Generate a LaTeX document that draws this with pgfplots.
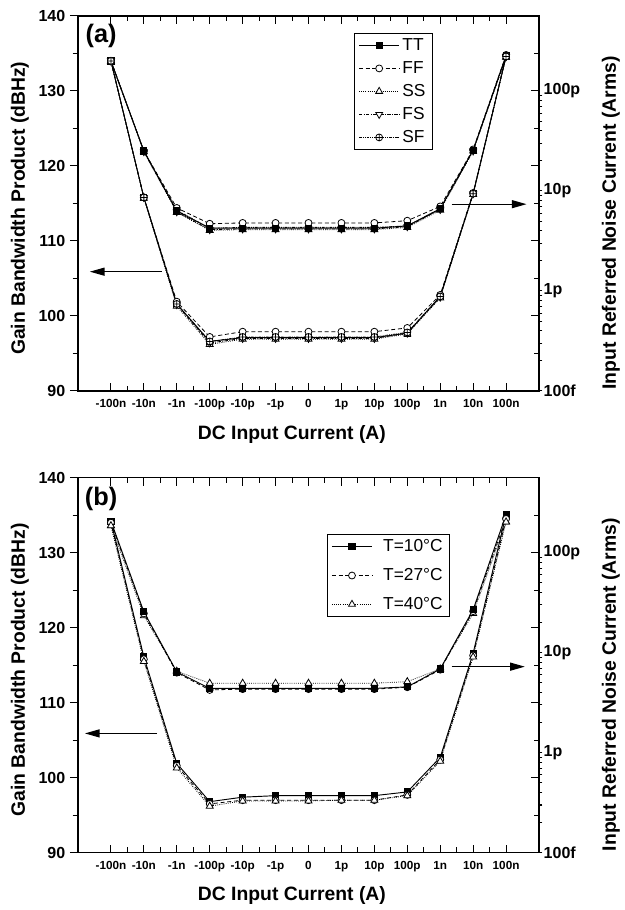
\documentclass[border=0pt]{standalone}
\usepackage{fontspec}
\setmainfont{Liberation Sans}
\usepackage{pgfplots}
\usepackage{pgfplotstable}
\pgfplotsset{compat=1.18}
\usetikzlibrary{arrows.meta}

% GBW (dBHz), panel (a): process corners
\pgfplotstableread{
x   TT    FF    SS    FS    SF
0   134.0 134.0 133.9 134.0 134.0
1   115.8 115.8 115.7 115.8 115.8
2   101.6 101.9 101.3 101.5 101.6
3   96.6  97.2  96.2  96.4  96.6
4   97.1  97.9  96.9  97.0  97.2
5   97.1  97.9  96.9  97.0  97.2
6   97.1  97.9  96.9  97.0  97.2
7   97.1  97.9  96.9  97.0  97.2
8   97.1  97.9  96.9  97.0  97.2
9   97.7  98.4  97.6  97.7  97.8
10  102.6 102.8 102.4 102.5 102.6
11  116.3 116.4 116.2 116.3 116.3
12  134.6 134.7 134.5 134.6 134.6
}\gbwa
% noise (Arms), panel (a)
\pgfplotstableread{
x   TT       FF       SS       FS       SF
0   2.00e-10 2.00e-10 1.96e-10 2.00e-10 2.00e-10
1   2.51e-11 2.51e-11 2.47e-11 2.47e-11 2.51e-11
2   6.31e-12 6.76e-12 6.10e-12 6.20e-12 6.42e-12
3   4.24e-12 4.70e-12 4.03e-12 4.10e-12 4.24e-12
4   4.24e-12 4.79e-12 4.10e-12 4.17e-12 4.32e-12
5   4.24e-12 4.79e-12 4.10e-12 4.17e-12 4.32e-12
6   4.24e-12 4.79e-12 4.10e-12 4.17e-12 4.32e-12
7   4.24e-12 4.79e-12 4.10e-12 4.17e-12 4.32e-12
8   4.24e-12 4.79e-12 4.10e-12 4.17e-12 4.32e-12
9   4.47e-12 5.04e-12 4.32e-12 4.39e-12 4.47e-12
10  6.64e-12 7.00e-12 6.42e-12 6.53e-12 6.64e-12
11  2.56e-11 2.60e-11 2.51e-11 2.51e-11 2.56e-11
12  2.25e-10 2.29e-10 2.18e-10 2.21e-10 2.25e-10
}\noisea
% GBW (dBHz), panel (b): temperature
\pgfplotstableread{
x   T10   T27   T40
0   134.2 134.0 133.6
1   116.1 115.8 115.5
2   101.9 101.6 101.3
3   96.8  96.5  96.2
4   97.4  97.0  96.9
5   97.6  97.0  96.9
6   97.6  97.0  96.9
7   97.6  97.0  97.0
8   97.6  97.0  97.0
9   98.1  97.7  97.6
10  102.7 102.4 102.2
11  116.6 116.3 116.1
12  135.1 134.5 134.1
}\gbwb
% noise (Arms), panel (b)
\pgfplotstableread{
x   T10      T27      T40
0   2.07e-10 2.00e-10 1.86e-10
1   2.56e-11 2.47e-11 2.34e-11
2   6.42e-12 6.31e-12 6.53e-12
3   4.39e-12 4.24e-12 4.95e-12
4   4.39e-12 4.32e-12 4.95e-12
5   4.39e-12 4.32e-12 4.95e-12
6   4.39e-12 4.32e-12 4.95e-12
7   4.39e-12 4.32e-12 4.95e-12
8   4.39e-12 4.32e-12 4.95e-12
9   4.55e-12 4.51e-12 5.13e-12
10  6.88e-12 6.76e-12 6.88e-12
11  2.69e-11 2.60e-11 2.47e-11
12  2.41e-10 2.21e-10 2.03e-10
}\noiseb

\tikzset{arr/.style={-{Triangle[length=11pt,width=6pt]}, line width=0.9pt}}

\pgfplotsset{
  panel/.style={
    scale only axis, width=345.75pt, height=281.25pt,
    xmin=-1, xmax=13,
    every tick/.style={black, line width=0.8pt},
    major tick length=6pt, minor tick length=4pt,
    axis line style={-, line width=1pt},
    yticklabel style={font=\bfseries\fontsize{12}{14}\selectfont},
    label style={font=\bfseries\fontsize{14.5}{17}\selectfont},
  },
  gbw/.style={panel,
    ymin=90, ymax=140, ytick={90,100,...,140}, minor y tick num=1,
    yticklabels={90,100,110,120,130,140},
    xtick={0,...,12},
    xticklabels={-100n,-10n,-1n,-100p,-10p,-1p,0,1p,10p,100p,1n,10n,100n},
    minor x tick num=1,
    xtick align=inside, ytick align=outside, ytick pos=left, xtick pos=both,
    xticklabel pos=lower,
    xticklabel style={font=\bfseries\fontsize{8.8}{10}\selectfont, yshift=-3pt},
    xlabel={DC Input Current (A)}, ylabel={Gain Bandwidth Product (dBHz)},
    ylabel style={at={(axis description cs:-0.126,0.487)}, anchor=center},
    xlabel style={at={(axis description cs:0.464,-0.115)}, anchor=center},
    legend cell align=left,
    legend image code/.code={\draw[mark repeat=2,mark phase=2,##1]
      plot coordinates {(0cm,0cm) (0.53cm,0cm) (1.06cm,0cm)};},
  },
  noise/.style={panel,
    hide x axis, axis y line*=right,
    ymin=1e-13, ymax=5.623e-10,
    ytick={1e-13,1e-12,1e-11,1e-10}, yticklabels={100f,1p,10p,100p},
    tick align=outside, major tick length=0pt, minor tick length=2.5pt,
    ylabel={Input Referred Noise Current (Arms)},
    ylabel style={at={(axis description cs:1.156,0.448)}, anchor=center},
  },
  mirror/.style={panel,
    hide x axis, axis y line*=right,
    ymin=90, ymax=140, ytick={90,100,...,140}, minor y tick num=1,
    yticklabels={}, tick align=inside,
  },
  sTT/.style={black, line width=0.7pt, mark=square*, mark size=2.3pt, mark options={solid, fill=black}},
  sFF/.style={black, line width=0.6pt, densely dashed, mark=*, mark size=2.6pt, mark options={solid, fill=white}},
  sSS/.style={black, line width=0.6pt, densely dotted, mark=triangle*, mark size=3pt, mark options={solid, fill=white}},
  sFS/.style={black, line width=0.6pt, dash pattern=on 2.5pt off 1pt on 0.8pt off 1pt, mark=triangle*, mark size=3pt, mark options={solid, fill=white, rotate=180}},
  sSF/.style={black, line width=0.6pt, dash pattern=on 2pt off 0.8pt on 0.6pt off 0.8pt on 0.6pt off 0.8pt, mark=oplus*, mark size=2.6pt, mark options={solid, fill=white}},
}

\begin{document}
\begin{tikzpicture}
\path (-58.5pt,-43pt) rectangle (406.5pt,639.5pt);

% ---------------- panel (a) ----------------
\begin{axis}[mirror, at={(0pt,346.3pt)}]
\end{axis}
\begin{semilogyaxis}[noise, at={(0pt,346.3pt)}]
  \addplot[sFS] table[x=x,y=FS] {\noisea};
  \addplot[sSS] table[x=x,y=SS] {\noisea};
  \addplot[sSF] table[x=x,y=SF] {\noisea};
  \addplot[sFF] table[x=x,y=FF] {\noisea};
  \addplot[sTT] table[x=x,y=TT] {\noisea};
\end{semilogyaxis}
\begin{axis}[gbw, at={(0pt,346.3pt)},
    legend style={at={(axis description cs:0.599,0.955)}, anchor=north west,
      font=\fontsize{13}{15}\selectfont, draw=black, line width=0.7pt, row sep=2.7pt}]
  \addplot[sTT] table[x=x,y=TT] {\gbwa};
  \addplot[sFF] table[x=x,y=FF] {\gbwa};
  \addplot[sSS] table[x=x,y=SS] {\gbwa};
  \addplot[sFS] table[x=x,y=FS] {\gbwa};
  \addplot[sSF] table[x=x,y=SF] {\gbwa};
  \legend{TT,FF,SS,FS,SF}
  \node[font=\bfseries\fontsize{19}{21}\selectfont] at (axis description cs:0.05,0.947) {(a)};
  \draw[arr] (axis cs:1.55,105.9) -- (axis cs:-0.64,105.9);
  \draw[arr] (axis cs:10.35,114.9) -- (axis cs:12.62,114.9);
\end{axis}

% ---------------- panel (b) ----------------
\begin{axis}[mirror, at={(0pt,0pt)}]
\end{axis}
\begin{semilogyaxis}[noise, at={(0pt,0pt)}]
  \addplot[sSS] table[x=x,y=T40] {\noiseb};
  \addplot[sFF] table[x=x,y=T27] {\noiseb};
  \addplot[sTT] table[x=x,y=T10] {\noiseb};
\end{semilogyaxis}
\begin{axis}[gbw, at={(0pt,0pt)},
    legend style={at={(axis description cs:0.540,0.850)}, anchor=north west,
      font=\fontsize{13}{15}\selectfont, draw=black, line width=0.7pt, row sep=7pt}]
  \addplot[sTT] table[x=x,y=T10] {\gbwb};
  \addplot[sFF] table[x=x,y=T27] {\gbwb};
  \addplot[sSS] table[x=x,y=T40] {\gbwb};
  \legend{\hspace{6pt}T=10°C,\hspace{6pt}T=27°C,\hspace{6pt}T=40°C}
  \node[font=\bfseries\fontsize{19}{21}\selectfont] at (axis description cs:0.05,0.942) {(b)};
  \draw[arr] (axis cs:1.40,105.9) -- (axis cs:-0.79,105.9);
  \draw[arr] (axis cs:10.35,114.8) -- (axis cs:12.57,114.8);
\end{axis}
\end{tikzpicture}
\end{document}
